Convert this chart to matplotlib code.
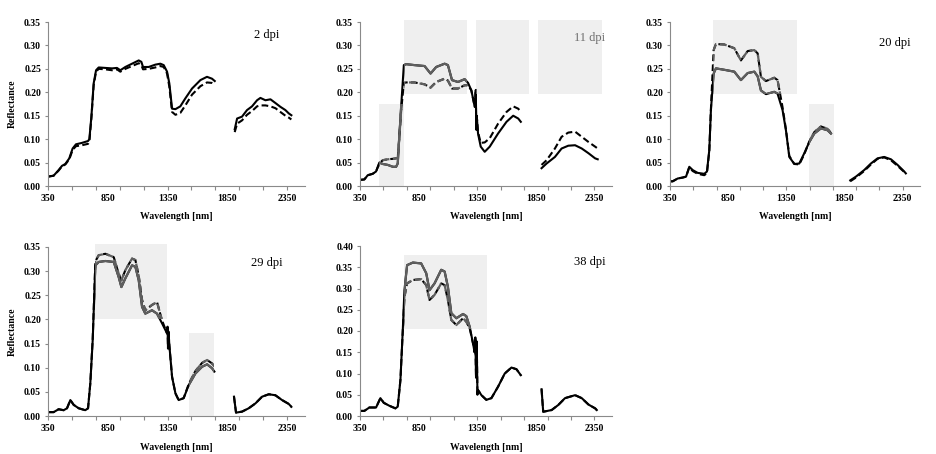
import numpy as np
import matplotlib
matplotlib.use("Agg")
import matplotlib.pyplot as plt
from matplotlib.patches import Rectangle

plt.rcParams['font.family'] = ['Liberation Serif', 'DejaVu Serif']

nan = np.nan

# ---- 2 dpi ----
wl_2 = [350, 397, 439, 467, 495, 528, 556, 584, 634, 685, 696, 713, 732, 752, 774, 830, 886, 927, 955, 997,
        1053, 1109, 1131, 1145, 1192, 1248, 1290, 1318, 1346, 1365, 1388, 1416, 1457, 1499, 1555, 1625, 1680,
        1722, 1745, 1830, 1912, 1932, 1973, 2015, 2057, 2099, 2127, 2169, 2211, 2253, 2294, 2336, 2364, 2386]
solid_2 = [0.020, 0.022, 0.034, 0.043, 0.047, 0.059, 0.080, 0.089, 0.092, 0.096, 0.100, 0.148, 0.219, 0.247,
           0.253, 0.252, 0.251, 0.252, 0.247, 0.254, 0.261, 0.268, 0.265, 0.254, 0.254, 0.259, 0.261, 0.258,
           0.244, 0.219, 0.165, 0.164, 0.170, 0.187, 0.208, 0.226, 0.233, 0.229, 0.224, nan, 0.121, 0.144,
           0.148, 0.162, 0.170, 0.183, 0.188, 0.183, 0.185, 0.177, 0.169, 0.162, 0.155, 0.151]
dashed_2 = [0.020, 0.022, 0.033, 0.042, 0.046, 0.057, 0.077, 0.085, 0.087, 0.090, 0.095, 0.145, 0.215, 0.244,
            0.250, 0.249, 0.247, 0.249, 0.244, 0.250, 0.256, 0.262, 0.258, 0.249, 0.250, 0.253, 0.256, 0.254,
            0.240, 0.212, 0.158, 0.152, 0.156, 0.172, 0.195, 0.213, 0.221, 0.220, 0.217, nan, 0.115, 0.133,
            0.140, 0.152, 0.160, 0.170, 0.172, 0.172, 0.170, 0.166, 0.158, 0.150, 0.146, 0.142]

# ---- 11 dpi ----
wl_11 = [350, 387, 416, 458, 487, 515, 544, 587, 630, 658, 672, 687, 701, 724, 744, 815, 901, 952, 1000, 1072,
         1100, 1135, 1186, 1243, 1272, 1300, 1329, 1338, 1342, 1346, 1357, 1380, 1414, 1457, 1528, 1600, 1657,
         1700, 1722, 1810, 1899, 1942, 2013, 2070, 2127, 2185, 2242, 2299, 2356, 2378]
solid_11 = [0.013, 0.014, 0.023, 0.026, 0.031, 0.050, 0.047, 0.045, 0.041, 0.041, 0.048, 0.112, 0.169, 0.258,
            0.260, 0.258, 0.256, 0.240, 0.254, 0.261, 0.258, 0.226, 0.222, 0.228, 0.220, 0.204, 0.169, 0.205,
            0.120, 0.150, 0.112, 0.084, 0.073, 0.084, 0.112, 0.137, 0.150, 0.144, 0.137, nan, 0.038, 0.048,
            0.062, 0.080, 0.086, 0.087, 0.080, 0.070, 0.059, 0.057]
dashed_11 = [0.013, 0.014, 0.023, 0.026, 0.031, 0.048, 0.055, 0.057, 0.058, 0.059, 0.060, 0.110, 0.160, 0.220,
             0.221, 0.221, 0.217, 0.210, 0.222, 0.229, 0.225, 0.208, 0.208, 0.215, 0.215, 0.204, 0.169, 0.200,
             0.125, 0.150, 0.115, 0.092, 0.093, 0.102, 0.133, 0.158, 0.170, 0.165, 0.158, nan, 0.045, 0.055,
             0.080, 0.105, 0.114, 0.116, 0.105, 0.094, 0.084, 0.080]

# ---- 20 dpi ----
wl_20 = [350, 373, 416, 459, 488, 516, 545, 588, 645, 668, 688, 702, 725, 745, 817, 903, 960, 1018, 1075, 1104,
         1132, 1175, 1247, 1275, 1318, 1347, 1376, 1419, 1462, 1505, 1548, 1591, 1648, 1705, 1734, 1815, 1900,
         1949, 2020, 2078, 2135, 2192, 2250, 2307, 2364, 2378]
solid_20 = [0.010, 0.010, 0.016, 0.018, 0.020, 0.041, 0.034, 0.028, 0.026, 0.031, 0.077, 0.162, 0.240, 0.251,
            0.248, 0.244, 0.226, 0.241, 0.244, 0.234, 0.204, 0.196, 0.201, 0.197, 0.162, 0.119, 0.062, 0.047,
            0.048, 0.070, 0.094, 0.112, 0.123, 0.119, 0.112, nan, 0.012, 0.020, 0.034, 0.048, 0.059, 0.062,
            0.057, 0.045, 0.031, 0.027]
dashed_20 = [0.010, 0.010, 0.016, 0.018, 0.020, 0.040, 0.032, 0.026, 0.023, 0.028, 0.075, 0.165, 0.290, 0.303,
             0.302, 0.294, 0.268, 0.288, 0.290, 0.283, 0.233, 0.224, 0.231, 0.226, 0.168, 0.121, 0.064, 0.047,
             0.046, 0.068, 0.095, 0.115, 0.127, 0.122, 0.113, nan, 0.010, 0.018, 0.032, 0.046, 0.058, 0.061,
             0.055, 0.043, 0.030, 0.025]

# ---- 29 dpi ----
wl_29 = [350, 397, 439, 481, 509, 537, 565, 607, 662, 685, 704, 724, 746, 774, 830, 900, 941, 964, 997, 1053,
         1081, 1109, 1137, 1164, 1220, 1262, 1304, 1346, 1350, 1354, 1358, 1365, 1388, 1416, 1443, 1485, 1527,
         1583, 1639, 1681, 1722, 1742, 1830, 1906, 1923, 1973, 2029, 2085, 2141, 2197, 2252, 2308, 2364, 2386]
solid_29 = [0.008, 0.008, 0.014, 0.012, 0.016, 0.033, 0.023, 0.016, 0.012, 0.016, 0.068, 0.157, 0.312, 0.319,
            0.321, 0.319, 0.288, 0.267, 0.285, 0.312, 0.309, 0.281, 0.226, 0.212, 0.219, 0.212, 0.192, 0.171,
            0.185, 0.140, 0.175, 0.147, 0.081, 0.047, 0.033, 0.037, 0.064, 0.088, 0.102, 0.107, 0.099, 0.092,
            nan, 0.040, 0.007, 0.009, 0.016, 0.026, 0.040, 0.045, 0.043, 0.033, 0.025, 0.019]
dashed_29 = [0.008, 0.008, 0.014, 0.012, 0.016, 0.033, 0.023, 0.016, 0.012, 0.016, 0.068, 0.160, 0.320, 0.333,
             0.336, 0.329, 0.295, 0.281, 0.302, 0.326, 0.323, 0.290, 0.240, 0.219, 0.230, 0.236, 0.198, 0.171,
             0.185, 0.140, 0.175, 0.147, 0.081, 0.047, 0.033, 0.037, 0.066, 0.093, 0.110, 0.116, 0.109, 0.102,
             nan, 0.040, 0.007, 0.009, 0.016, 0.026, 0.040, 0.045, 0.043, 0.033, 0.025, 0.019]

# ---- 38 dpi ----
wl_38 = [350, 387, 430, 487, 524, 553, 601, 652, 672, 695, 715, 729, 752, 801, 872, 915, 943, 986, 1043, 1072,
         1100, 1129, 1172, 1229, 1257, 1286, 1314, 1328, 1334, 1340, 1346, 1352, 1357, 1386, 1428, 1471, 1528,
         1585, 1642, 1685, 1722, 1810, 1899, 1913, 1985, 2042, 2099, 2185, 2242, 2299, 2356, 2370]
solid_38 = [0.012, 0.012, 0.020, 0.020, 0.042, 0.031, 0.024, 0.018, 0.022, 0.085, 0.202, 0.296, 0.355, 0.361,
            0.359, 0.336, 0.296, 0.312, 0.344, 0.340, 0.304, 0.242, 0.230, 0.240, 0.235, 0.210, 0.171, 0.150,
            0.185, 0.090, 0.175, 0.050, 0.061, 0.049, 0.038, 0.042, 0.069, 0.100, 0.114, 0.110, 0.096, nan,
            0.063, 0.010, 0.014, 0.026, 0.042, 0.049, 0.042, 0.027, 0.018, 0.014]
dashed_38 = [0.012, 0.012, 0.020, 0.020, 0.042, 0.031, 0.024, 0.018, 0.022, 0.085, 0.200, 0.280, 0.312, 0.320,
             0.322, 0.308, 0.273, 0.285, 0.312, 0.308, 0.273, 0.226, 0.214, 0.230, 0.222, 0.206, 0.171, 0.150,
             0.185, 0.090, 0.175, 0.050, 0.061, 0.049, 0.038, 0.042, 0.069, 0.100, 0.114, 0.110, 0.096, nan,
             0.063, 0.010, 0.014, 0.026, 0.042, 0.049, 0.042, 0.027, 0.018, 0.014]

# shaded boxes: (x0, x1, y0, y1)
boxes_2 = []
boxes_11 = [(510, 724, 0, 0.175), (729, 1263, 0.196, 0.355), (1337, 1794, 0.196, 0.355), (1871, 2413, 0.196, 0.355)]
boxes_20 = [(717, 1439, 0.196, 0.355), (1542, 1763, 0, 0.175)]
boxes_29 = [(746, 1346, 0.2005, 0.356), (1527, 1742, 0, 0.171)]
boxes_38 = [(729, 1437, 0.204, 0.379)]

W, H = 936, 454
fig = plt.figure(figsize=(W / 100, H / 100), dpi=100)

DASH = (0, (3.2, 1.6))
GREY = '#5f5f5f'
SHADE = '#efefef'
SPINE = '#8a8a8a'


def make_ax(left, right, top, bottom):
    return fig.add_axes([left / W, 1 - bottom / H, (right - left) / W, (bottom - top) / H])


def panel(ax, wl, solid, dashed, boxes, label, ymax, label_color, show_ylabel):
    ax.plot(wl, solid, color='black', lw=1.5, zorder=2)
    ax.plot(wl, dashed, color='black', lw=1.5, ls=DASH, zorder=2)
    for x0, x1, y0, y1 in boxes:
        box = Rectangle((x0, y0), x1 - x0, y1 - y0, facecolor=SHADE, edgecolor='none', zorder=0, clip_on=False)
        ax.add_patch(box)
        for vals, ls in ((solid, '-'), (dashed, DASH)):
            ln, = ax.plot(wl, vals, color=GREY, lw=1.6, ls=ls, zorder=3)
            ln.set_clip_path(box)
    ax.set_xlim(350, 2500)
    ax.set_ylim(0, ymax)
    for s in ('top', 'right'):
        ax.spines[s].set_visible(False)
    for s in ('left', 'bottom'):
        ax.spines[s].set_color(SPINE)
        ax.spines[s].set_linewidth(0.8)
    ax.xaxis.remove_overlapping_locs = False
    ax.set_xticks(np.arange(350, 2501, 200))
    ax.set_xticklabels([])
    ax.set_xticks([350, 850, 1350, 1850, 2350], labels=['350', '850', '1350', '1850', '2350'], minor=True)
    ax.tick_params(axis='x', which='major', length=3, width=0.8, color=SPINE, direction='out')
    ax.tick_params(axis='x', which='minor', length=0, pad=6)
    yt = np.arange(0, ymax + 0.001, 0.05)
    ax.set_yticks(yt, labels=[f'{v:.2f}' for v in yt])
    ax.tick_params(axis='y', length=2.5, width=0.8, color=SPINE, pad=2.5)
    for t in ax.get_xticklabels(minor=True) + ax.get_yticklabels():
        t.set_fontsize(7)
        t.set_fontweight('bold')
    ax.set_xlabel('Wavelength [nm]', fontsize=7, fontweight='bold')
    ax.xaxis.set_label_coords(0.5, -0.16)
    if show_ylabel:
        ax.set_ylabel('Reflectance', fontsize=7, fontweight='bold')
        ax.yaxis.set_label_coords(-0.12, 0.5)
    ax.text(0.90, 0.905, label, transform=ax.transAxes, ha='center', va='center', fontsize=9, color=label_color)


ax1 = make_ax(48, 305, 22, 186)
ax2 = make_ax(360, 612, 22, 186)
ax3 = make_ax(670, 920, 22, 186)
ax4 = make_ax(48, 305, 247, 416)
ax5 = make_ax(360, 612, 246, 416)

panel(ax1, wl_2, solid_2, dashed_2, boxes_2, '2 dpi', 0.35, 'black', True)
panel(ax2, wl_11, solid_11, dashed_11, boxes_11, '11 dpi', 0.35, '#6e6e6e', False)
panel(ax3, wl_20, solid_20, dashed_20, boxes_20, '20 dpi', 0.35, 'black', False)
panel(ax4, wl_29, solid_29, dashed_29, boxes_29, '29 dpi', 0.35, 'black', True)
panel(ax5, wl_38, solid_38, dashed_38, boxes_38, '38 dpi', 0.40, 'black', False)

ax1.texts[0].set_position((0.85, 0.92))
ax2.texts[0].set_position((0.91, 0.90))
ax3.texts[0].set_position((0.90, 0.87))
ax4.texts[0].set_position((0.85, 0.905))
ax5.texts[0].set_position((0.91, 0.905))

fig.savefig('out.png', dpi=100)
